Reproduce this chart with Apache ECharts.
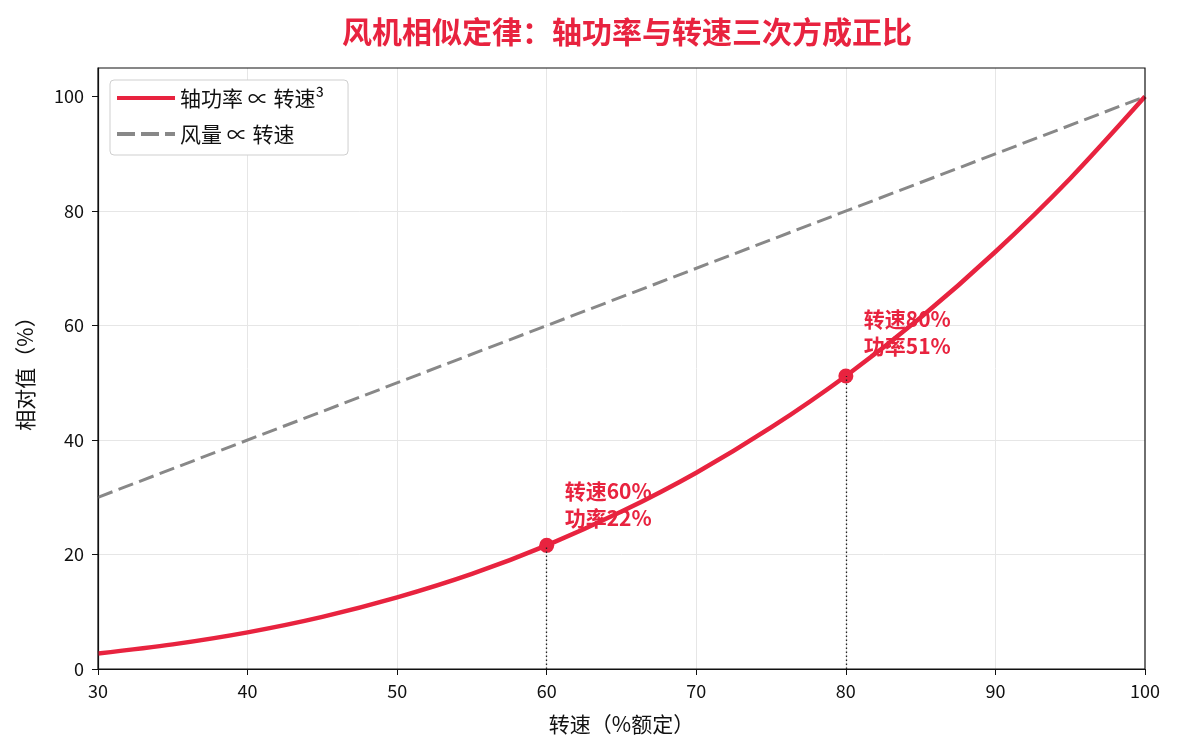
<!DOCTYPE html>
<html>
<head>
<meta charset="utf-8">
<script src="https://cdn.jsdelivr.net/npm/echarts@6/dist/echarts.min.js"></script>
<style>
  html, body { margin: 0; padding: 0; background: #fff; }
  #main { width: 1177px; height: 755px; }
</style>
</head>
<body>
<div id="main"></div>
<script>
// 转速（%额定）及读图得到的数值
var speed = [30, 35, 40, 45, 50, 55, 60, 65, 70, 75, 80, 85, 90, 95, 100];
var power = [2.7, 4.3, 6.4, 9.1, 12.5, 16.6, 21.6, 27.5, 34.3, 42.2, 51.2, 61.4, 72.9, 85.7, 100];
var flowX = [30, 100];
var flowY = [30, 100];
var yTicks = [0, 20, 40, 60, 80, 100];
// 标注点
var markX = [60, 80];
var markY = [21.6, 51.2];
var markText = ['转速60%\n功率22%', '转速80%\n功率51%'];
var labelX = [61, 81];
var labelY = [28.7, 58.7];

var RED = '#e8233f';
var FONT = '"Noto Sans CJK SC", "Noto Sans", sans-serif';

var myChart = echarts.init(document.getElementById('main'));

var powerData = speed.map(function (s, i) { return [s, power[i]]; });
var flowData = flowX.map(function (s, i) { return [s, flowY[i]]; });
var markData = markX.map(function (s, i) { return [s, markY[i]]; });
var labelData = labelX.map(function (s, i) { return { value: [s, labelY[i]], text: markText[i] }; });
var dropLines = markX.map(function (s, i) {
    return [{ coord: [s, 0] }, { coord: [s, markY[i]] }];
});

myChart.setOption({
    backgroundColor: '#fff',
    textStyle: { fontFamily: FONT },
    title: {
        text: '风机相似定律：轴功率与转速三次方成正比',
        left: 622,
        textAlign: 'center',
        top: 12,
        textStyle: { color: RED, fontSize: 30, fontWeight: 'bold', fontFamily: FONT }
    },
    legend: {
        left: 110,
        top: 80,
        orient: 'vertical',
        itemWidth: 58,
        itemHeight: 4,
        itemGap: 14,
        padding: [7, 24, 10, 7],
        backgroundColor: '#fff',
        borderColor: '#cfcfcf',
        borderWidth: 1,
        borderRadius: 4,
        textStyle: { fontSize: 21, lineHeight: 22, color: '#111', fontFamily: FONT },
        data: [
            { name: '轴功率 ∝ 转速³', icon: 'path://M0,0H58V4H0Z' },
            { name: '风量 ∝ 转速', icon: 'path://M0,0H18V4H0ZM24,0H42V4H24ZM48,0H58V4H48Z' }
        ]
    },
    grid: { left: 98, right: 32, top: 68, bottom: 86, show: true, borderColor: '#111', borderWidth: 1.2, z: 5 },
    xAxis: {
        type: 'value',
        min: 30,
        max: 100,
        interval: 10,
        name: '转速（%额定）',
        nameLocation: 'middle',
        nameGap: 45,
        nameTextStyle: { fontSize: 21, color: '#111', fontFamily: FONT },
        axisLine: { lineStyle: { color: '#111', width: 1.2 } },
        axisTick: { show: true, length: 6, lineStyle: { color: '#111' } },
        axisLabel: { fontSize: 18, color: '#111', margin: 13 },
        splitLine: { show: true, showMinLine: false, showMaxLine: false, lineStyle: { color: '#e6e6e6' } }
    },
    yAxis: {
        type: 'value',
        min: 0,
        max: 105,
        interval: 20,
        name: '相对值（%）',
        nameLocation: 'middle',
        nameGap: 62,
        nameTextStyle: { fontSize: 21, color: '#111', fontFamily: FONT },
        axisLine: { show: true, lineStyle: { color: '#111', width: 1.2 } },
        axisTick: { show: true, length: 6, lineStyle: { color: '#111' }, customValues: yTicks },
        axisLabel: { fontSize: 18, color: '#111', margin: 14, customValues: yTicks },
        splitLine: { show: true, showMinLine: false, showMaxLine: false, lineStyle: { color: '#e6e6e6' } }
    },
    series: [
        {
            name: 'labels',
            type: 'scatter',
            data: labelData,
            symbolSize: 0,
            silent: true,
            z: 1,
            itemStyle: { opacity: 1 },
            label: {
                show: true,
                position: 'right',
                distance: 3,
                color: RED,
                opacity: 1,
                fontSize: 21,
                fontWeight: 'bold',
                lineHeight: 27,
                fontFamily: FONT,
                formatter: function (p) { return p.data.text; }
            }
        },
        {
            name: '风量 ∝ 转速',
            type: 'line',
            data: flowData,
            symbol: 'none',
            z: 2,
            lineStyle: { color: '#888', width: 3, type: [15.5, 6.5] },
            itemStyle: { color: '#888' }
        },
        {
            name: '轴功率 ∝ 转速³',
            type: 'line',
            data: powerData,
            smooth: 0.3,
            symbol: 'none',
            z: 3,
            lineStyle: { color: RED, width: 4.5 },
            itemStyle: { color: RED },
            markLine: {
                silent: true,
                symbol: 'none',
                label: { show: false },
                lineStyle: { color: '#222', width: 1.3, type: [1.5, 2.5] },
                data: dropLines
            }
        },
        {
            name: 'points',
            type: 'scatter',
            data: markData,
            symbolSize: 15,
            z: 4,
            itemStyle: { color: RED, opacity: 1 }
        }
    ]
});
</script>
</body>
</html>
